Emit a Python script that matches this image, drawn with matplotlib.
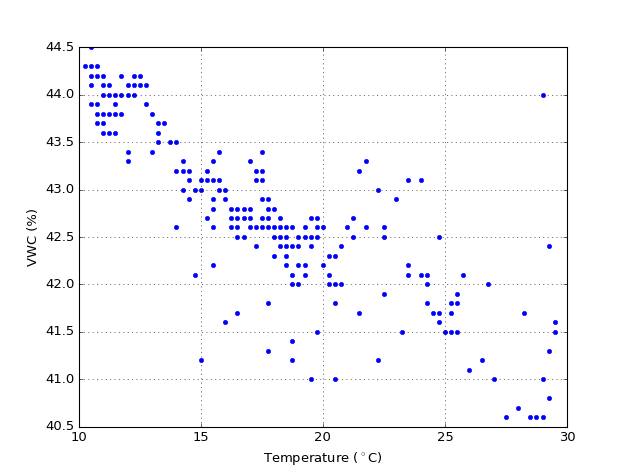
import matplotlib
matplotlib.use('Agg')
import matplotlib.pyplot as plt

plt.style.use('classic')

# readings, grouped by VWC row
temperature = [
    10.5,
    10.25, 10.5, 10.75,
    10.5, 10.75, 11.0, 11.75, 12.25, 12.5,
    10.5, 11.0, 11.25, 12.0, 12.25, 12.5, 12.75,
    11.0, 11.25, 11.5, 11.75, 12.0, 12.25, 29.0,
    10.5, 10.75, 11.5, 12.75,
    10.75, 11.0, 11.25, 11.5, 11.75, 13.0,
    10.75, 11.0, 13.25, 13.5,
    11.0, 11.25, 11.5, 13.25,
    13.25, 13.75, 14.0,
    12.0, 13.0, 15.75, 17.5,
    12.0, 14.25, 15.5, 17.0, 21.75,
    14.0, 14.25, 14.5, 15.25, 17.25, 17.5, 21.5,
    14.5, 15.0, 15.25, 15.5, 15.75, 17.25, 17.5, 23.5, 24.0,
    14.25, 14.75, 15.0, 15.75, 16.0, 22.25,
    14.5, 15.5, 16.0, 17.5, 17.75, 23.0,
    15.5, 16.25, 16.5, 16.75, 17.0, 17.75, 18.0,
    15.25, 16.25, 16.5, 16.75, 17.0, 17.5, 17.75, 18.25, 19.5, 19.75, 21.25,
    14.0, 15.5, 16.25, 16.5, 17.0, 17.25, 17.5, 17.75, 18.0, 18.25, 18.5,
    18.75, 19.25, 19.75, 20.0, 21.0, 21.75, 22.5,
    16.5, 16.75, 18.0, 18.25, 18.5, 19.0, 19.25, 19.5, 19.75, 21.25, 22.5, 24.75,
    17.25, 18.25, 18.5, 18.75, 19.0, 19.5, 20.75, 29.25,
    18.0, 18.5, 20.25, 20.5,
    15.5, 18.5, 19.0, 19.25, 20.0, 23.5,
    14.75, 18.75, 19.25, 20.25, 23.5, 24.0, 24.25, 25.75,
    18.75, 19.0, 20.25, 20.5, 20.75, 24.25, 26.75,
    22.5, 25.5,
    17.75, 20.5, 24.25, 25.25, 25.5,
    16.5, 21.5, 24.5, 24.75, 25.25, 28.25,
    16.0, 24.75, 29.5,
    19.75, 23.25, 25.0, 25.25, 25.5, 29.5,
    18.75,
    17.75, 29.25,
    15.0, 18.75, 22.25, 26.5,
    26.0,
    19.5, 20.5, 27.0, 29.0,
    29.25,
    28.0,
    27.5, 28.5, 28.75, 29.0,
]
vwc_rows = [44.5, 44.3, 44.2, 44.1, 44.0, 43.9, 43.8, 43.7, 43.6, 43.5,
            43.4, 43.3, 43.2, 43.1, 43.0, 42.9, 42.8, 42.7, 42.6, 42.5,
            42.4, 42.3, 42.2, 42.1, 42.0, 41.9, 41.8, 41.7, 41.6, 41.5,
            41.4, 41.3, 41.2, 41.1, 41.0, 40.8, 40.7, 40.6]
row_counts = [1, 3, 6, 7, 7, 4, 6, 4, 4, 3,
              4, 5, 7, 9, 6, 6, 7, 11, 18, 12,
              8, 4, 6, 8, 7, 2, 5, 6, 3, 6,
              1, 2, 4, 1, 4, 1, 1, 4]
vwc = []
for v, n in zip(vwc_rows, row_counts):
    vwc += [v] * n

fig = plt.figure(figsize=(8, 6.02), dpi=78.75)
ax = fig.add_subplot(111)
ax.plot(temperature, vwc, 'b.', markersize=8, markeredgewidth=0.5)
ax.set_xlim(10, 30)
ax.set_ylim(40.5, 44.5)
ax.set_xticks([10, 15, 20, 25, 30])
ax.set_yticks([40.5, 41.0, 41.5, 42.0, 42.5, 43.0, 43.5, 44.0, 44.5])
ax.set_yticklabels(['40.5', '41.0', '41.5', '42.0', '42.5', '43.0', '43.5', '44.0', '44.5'])
ax.grid(True)
ax.set_xlabel('Temperature ($^\\circ$C)')
ax.set_ylabel('VWC (%)')

fig.savefig('out.png', dpi=78.75)
